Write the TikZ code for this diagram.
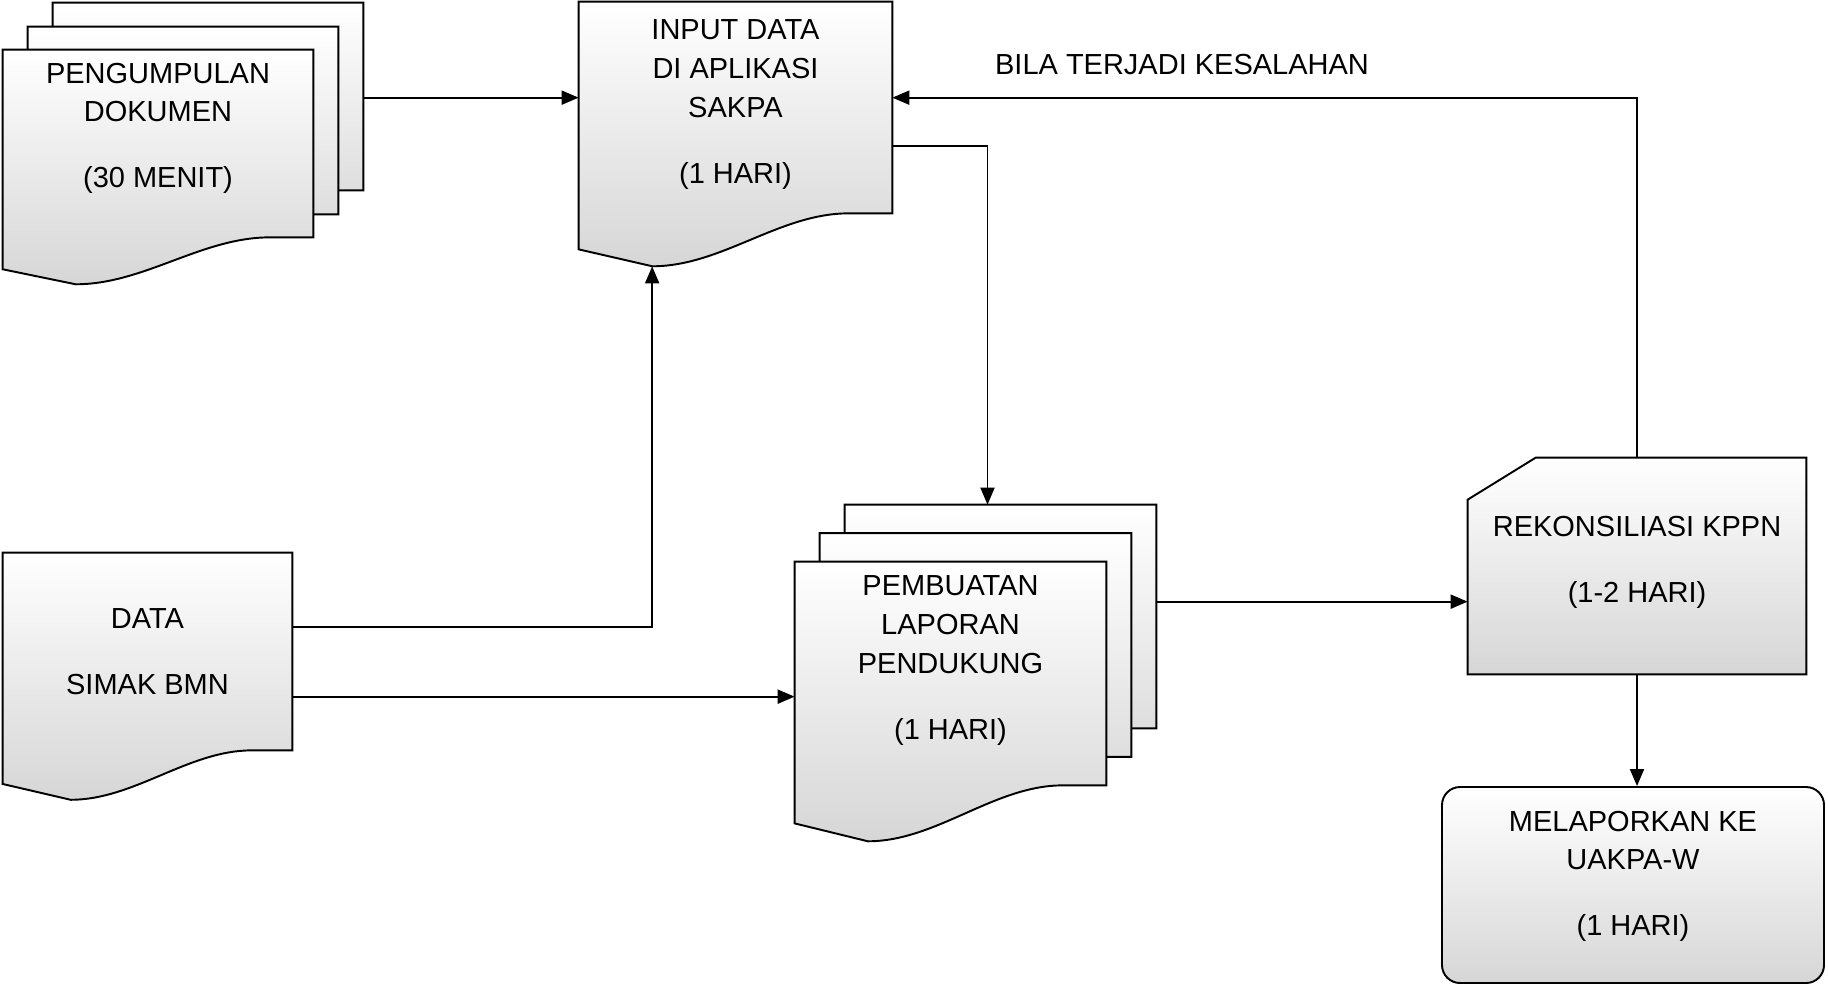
\documentclass[tikz,border=0pt]{standalone}
\usepackage{fontspec}
\setmainfont{Liberation Sans}
\usetikzlibrary{arrows.meta, calc, backgrounds}
\newlength{\pxu}
\setlength{\pxu}{0.02cm}
% text block of a box: width, height, top gap (px), lines
\newcommand{\boxtext}[4]{\parbox[c][#2\pxu][t]{#1\pxu}{\centering\vspace*{#3\pxu}#4\par}}
% document page with wavy bottom, drawn round a node, shifted by (dx,dy) px
\newcommand{\docpage}[3]{%
  \path[docfill] let \p1=($(#1.north west)+(#2,#3)$), \p2=($(#1.south east)+(#2,#3)$),
      \n1={\x2-\x1}, \n2={\y1-\y2} in
    (\p1) -- (\x2,\y1) -- (\p2) -- (\x2-0.14*\n1,\y2)
    .. controls (\x2-0.36*\n1,\y2) and (\x1+0.455*\n1,\y2-0.25*\n2) .. (\x1+0.235*\n1,\y2-0.25*\n2)
    -- (\x1,\y2-0.17*\n2) -- cycle;}
\tikzstyle{docfill} = [draw=black, line width=1.1pt, top color=white, bottom color=black!16]
\tikzstyle{textbox} = [inner sep=0pt, font=\fontsize{16.5}{22}\selectfont]
\tikzstyle{endbox} = [textbox, docfill, rounded corners=0.36cm]
\tikzstyle{arrow} = [line width=1.1pt, -{Triangle[length=0.34cm, width=0.28cm]}]

\begin{document}
\begin{tikzpicture}[x=0.02cm, y=-0.02cm]
    \useasboundingbox (0,0) rectangle (1828,985);

    \node (pgdoc) [textbox] at (158,143.5) {\boxtext{310}{187}{13}{PENGUMPULAN\\DOKUMEN\\[15.5pt](30 MENIT)}};
    \node (input) [textbox] at (735.5,107.5) {\boxtext{313}{211}{18}{INPUT DATA\\DI APLIKASI\\SAKPA\\[15.5pt](1 HARI)}};
    \node (data) [textbox] at (147.5,651.5) {\boxtext{289}{197}{56}{DATA\\[15.5pt]SIMAK BMN}};
    \node (report) [textbox] at (950.5,673.5) {\boxtext{311}{223}{14}{PEMBUATAN\\LAPORAN\\PENDUKUNG\\[15.5pt](1 HARI)}};
    \node (rekon) [textbox] at (1637,566) {\boxtext{338}{216}{58}{REKONSILIASI KPPN\\[15.5pt](1-2 HARI)}};
    \node (lapor) [endbox] at (1633,885) {\boxtext{382}{196}{24}{MELAPORKAN KE\\UAKPA-W\\[15.5pt](1 HARI)}};
    \node (err_label) [textbox] at (1182,65) {BILA TERJADI KESALAHAN};

    \begin{scope}[on background layer]
        \docpage{pgdoc}{50}{-47}
        \docpage{pgdoc}{25}{-23}
        \docpage{pgdoc}{0}{0}
        \docpage{input}{0}{0}
        \docpage{data}{0}{0}
        \docpage{report}{50}{-57}
        \docpage{report}{25}{-28.5}
        \docpage{report}{0}{0}
        \path[docfill] ($(rekon.north west)+(0,42)$) -- ($(rekon.north west)+(68,0)$) -- (rekon.north east)
            -- (rekon.south east) -- (rekon.south west) -- cycle;
    \end{scope}

    \coordinate (pg_out) at ($(pgdoc.north east)+(50,48)$);
    \coordinate (input_low) at ($(input.south west)+(73.5,53)$);
    \coordinate (input_out) at ($(input.north east)+(0,144)$);
    \coordinate (report_in) at ($(report.north)+(37,-57)$);
    \coordinate (data_top) at ($(data.north east)+(0,74)$);
    \coordinate (data_low) at ($(data.north east)+(0,144)$);
    \coordinate (report_out) at ($(report.north east)+(50,40)$);

    \draw [arrow] (pg_out) -- (pg_out -| input.west);
    \draw [arrow] (rekon.north) |- (pg_out -| input.east);
    \draw [arrow] (input_out) -| (report_in);
    \draw [arrow] (data_top) -| (input_low);
    \draw [arrow] (data_low) -- (data_low -| report.west);
    \draw [arrow] (report_out) -- (report_out -| rekon.west);
    \draw [arrow] (rekon.south) -- (rekon.south |- lapor.north);

\end{tikzpicture}
\end{document}
